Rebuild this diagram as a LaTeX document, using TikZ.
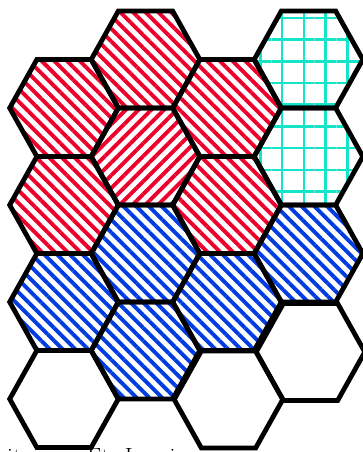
\documentclass[tikz,border=0pt]{standalone}
\usepackage{tikz}
\usetikzlibrary{patterns.meta}
\definecolor{stripered}{RGB}{238,0,45}
\definecolor{stripeblue}{RGB}{0,60,225}
\definecolor{gridcyan}{RGB}{20,228,200}
\tikzset{
  pics/hexcell/.style={code={\path[pic actions] (-54.3,0) -- (-27.15,-48.5) -- (27.15,-48.5) -- (54.3,0) -- (27.15,48.5) -- (-27.15,48.5) -- cycle;}},
  redfall/.style={pattern={Lines[angle=-45,distance=9pt,line width=3.9pt]}, pattern color=stripered},
  redrise/.style={pattern={Lines[angle=45,distance=9pt,line width=3.9pt]}, pattern color=stripered},
  bluefall/.style={pattern={Lines[angle=-45,distance=9pt,line width=3.9pt]}, pattern color=stripeblue},
  cyangrid/.style={pattern={Hatch[angle=0,distance=21.7pt,line width=2.6pt]}, pattern color=gridcyan},
  emptycell/.style={fill=white},
  hexline/.style={draw=black, line width=4.8pt, line join=miter},
  cityname/.style={font=\fontsize{23.5}{28}\selectfont, inner sep=0pt, anchor=base west},
}
\def\cells{64/108/redfall, 64/205/redfall, 64/302/bluefall, 64/399/emptycell,
  145.5/59.5/redfall, 145.5/156.5/redrise, 145.5/253.5/bluefall, 145.5/350.5/bluefall,
  227/108/redfall, 227/205/redfall, 227/302/bluefall, 228.5/399.5/emptycell,
  308.5/59.5/cyangrid, 308.5/156.5/cyangrid, 308.5/253.5/bluefall, 310.5/352/emptycell}

\begin{document}
\begin{tikzpicture}[x=1pt,y=-1pt]
  \useasboundingbox (0,0) rectangle (362,452);
  % fills first, outlines on top
  \foreach \cx/\cy/\look in \cells
    \pic[\look] at (\cx,\cy) {hexcell};
  \foreach \cx/\cy/\look in \cells
    \pic[hexline] at (\cx,\cy) {hexcell};
  \node[cityname] (leftcity) at (7,464) {it};
  \node[cityname] (rightcity) at (87,464) {Ft. Lauri};
\end{tikzpicture}
\end{document}
